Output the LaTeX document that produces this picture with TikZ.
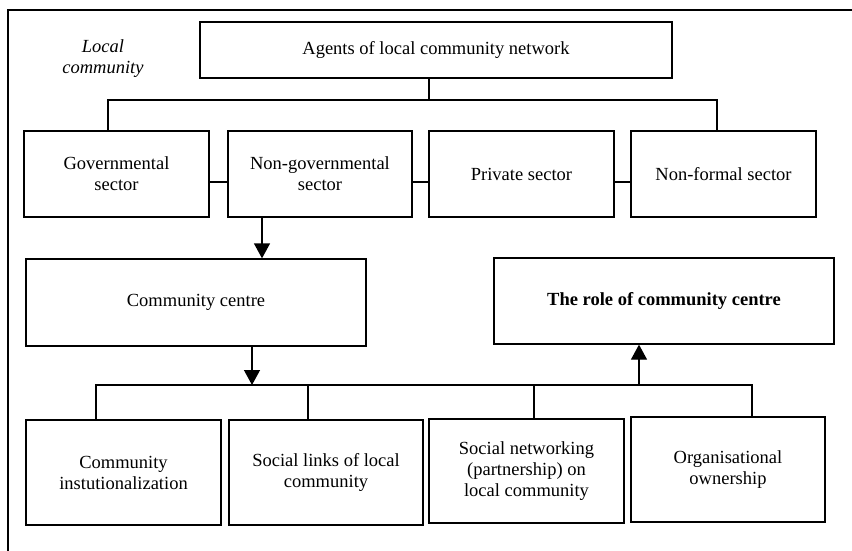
\documentclass[tikz,border=0pt]{standalone}
\usepackage{fontspec}
\setmainfont{Liberation Serif}
\usetikzlibrary{arrows.meta,calc}
\begin{document}
\begin{tikzpicture}[x=1pt,y=-1pt,
  box/.style={draw,line width=1.3pt,inner sep=0pt,align=center,
    font=\fontsize{18.5}{21}\selectfont},
  con/.style={line width=1.3pt},
  arr/.style={line width=1.3pt,-{Triangle[width=16pt,length=15pt]}}]
\useasboundingbox (0,0) rectangle (852,551);
% frame
\draw[line width=1.6pt] (852,10) -- (8,10) -- (8,551);
\node[font=\fontsize{18.5}{21}\selectfont\itshape,align=center] (lc) at (103,58.5) {Local\\community};
% boxes
\node[box,minimum width=472pt,minimum height=56pt] (agents) at (436,50) {Agents of local community network};
\node[box,minimum width=185pt,minimum height=86pt] (gov) at (116.5,174) {Governmental\\sector};
\node[box,minimum width=184pt,minimum height=86pt] (ngo) at (320,174) {Non-governmental\\sector};
\node[box,minimum width=185pt,minimum height=86pt] (priv) at (521.5,174) {Private sector};
\node[box,minimum width=185pt,minimum height=86pt] (nonf) at (723.5,174) {Non-formal sector};
\node[box,minimum width=340pt,minimum height=87pt] (cc) at (196,302.5) {Community centre};
\node[box,minimum width=340pt,minimum height=86pt] (role) at (664,301) {\bfseries The role of community centre};
\node[box,minimum width=195pt,minimum height=105pt] (inst) at (123.5,472.5) {Community\\instutionalization};
\node[box,minimum width=194pt,minimum height=105pt] (links) at (326,472.5) {Social links of local\\community};
\node[box,minimum width=195pt,minimum height=104pt] (netw) at (526.5,471) {Social networking\\(partnership) on\\local community};
\node[box,minimum width=194pt,minimum height=105pt] (own) at (728,469.5) {Organisational\\ownership};
% coordinates
\coordinate (busA) at (429,100);
\coordinate (busL) at (108,100);
\coordinate (busR) at (717,100);
\coordinate (mid) at (0,182);
\coordinate (a1) at (262,0);
\coordinate (b2) at (252,385);
\coordinate (b2L) at (96,385);
\coordinate (b2R) at (753,385);
\coordinate (d2) at (308,385);
\coordinate (d3) at (534,385);
\coordinate (d4) at (752,385);
\coordinate (up) at (639,385);
% connectors
\draw[con] (agents.south -| busA) -- (busA);
\draw[con] (gov.north -| busL) -- (busL) -- (busR) -- (nonf.north -| busR);
\draw[con] (gov.east |- mid) -- (ngo.west |- mid);
\draw[con] (ngo.east |- mid) -- (priv.west |- mid);
\draw[con] (priv.east |- mid) -- (nonf.west |- mid);
\draw[arr] (ngo.south -| a1) -- (cc.north -| a1);
\draw[arr] (cc.south -| b2) -- (b2);
\draw[con] (inst.north -| b2L) -- (b2L) -- (b2R);
\draw[con] (d2) -- (links.north -| d2);
\draw[con] (d3) -- (netw.north -| d3);
\draw[con] (d4) -- (own.north -| d4);
\draw[arr] (up) -- (role.south -| up);
\end{tikzpicture}
\end{document}
